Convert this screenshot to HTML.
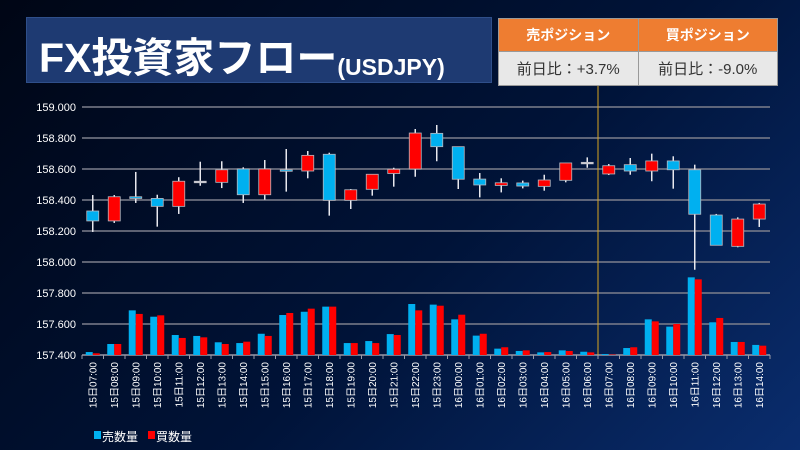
<!DOCTYPE html>
<html><head><meta charset="utf-8"><style>
body{margin:0;width:800px;height:450px;overflow:hidden;background:linear-gradient(135deg,#000615 0%,#001338 55%,#0a2d6e 100%);font-family:"Liberation Sans","Noto Sans CJK JP",sans-serif;}
#title{position:absolute;left:26px;top:17px;width:466px;height:66px;background:#1e3a72;border:1px solid #2f4f8a;box-sizing:border-box;color:#fff;}
#title .big{position:absolute;left:12px;top:6px;font-size:41px;font-weight:bold;}
#title .small{font-size:23px;font-weight:bold;position:relative;top:3px;}
#tbl{position:absolute;left:498px;top:18px;width:280px;height:68px;border-collapse:collapse;}
#tbl td{border:1px solid #999;text-align:center;width:50%;}
#tbl .h td{background:#ee7d31;color:#fff;font-weight:bold;font-size:14px;height:30px;}
#tbl .v td{background:#e8e8e8;color:#333;font-size:15px;}
svg{position:absolute;left:0;top:0}
</style></head><body>
<div id="title"><span class="big">FX投資家フロー<span class="small">(USDJPY)</span></span></div>
<table id="tbl">
<tr class="h"><td>売ポジション</td><td>買ポジション</td></tr>
<tr class="v"><td>前日比：+3.7%</td><td>前日比：-9.0%</td></tr>
</table>
<svg id="chart" width="800" height="450"></svg>
<script>
const categories=["15日07:00","15日08:00","15日09:00","15日10:00","15日11:00","15日12:00","15日13:00","15日14:00","15日15:00","15日16:00","15日17:00","15日18:00","15日19:00","15日20:00","15日21:00","15日22:00","15日23:00","16日00:00","16日01:00","16日02:00","16日03:00","16日04:00","16日05:00","16日06:00","16日07:00","16日08:00","16日09:00","16日10:00","16日11:00","16日12:00","16日13:00","16日14:00"];
const openV=[158.329,158.265,158.421,158.410,158.359,158.521,158.514,158.600,158.434,158.595,158.587,158.695,158.398,158.469,158.571,158.600,158.830,158.744,158.535,158.494,158.510,158.488,158.527,158.643,158.568,158.628,158.587,158.652,158.595,158.303,158.101,158.277];
const highV=[158.432,158.432,158.581,158.434,158.547,158.647,158.650,158.611,158.658,158.729,158.716,158.705,158.471,158.566,158.608,158.858,158.884,158.744,158.574,158.540,158.525,158.563,158.639,158.675,158.632,158.671,158.699,158.682,158.628,158.310,158.288,158.381];
const lowV=[158.194,158.252,158.381,158.228,158.310,158.492,158.477,158.381,158.402,158.454,158.540,158.299,158.342,158.428,158.486,158.550,158.650,158.471,158.417,158.449,158.475,158.460,158.514,158.608,158.561,158.563,158.521,158.473,157.950,158.108,158.095,158.226];
const closeV=[158.265,158.421,158.410,158.359,158.521,158.518,158.595,158.434,158.600,158.587,158.688,158.398,158.466,158.566,158.598,158.832,158.744,158.534,158.497,158.511,158.490,158.529,158.639,158.643,158.621,158.587,158.652,158.595,158.308,158.108,158.277,158.374];
const sellVol=[19,71,288,247,129,123,82,77,137,258,279,312,77,90,135,329,325,230,125,41,26,17,30,21,6,45,230,183,501,211,84,65];
const buyVol=[11,71,265,256,110,114,71,86,123,271,299,312,77,77,129,288,318,260,137,50,30,19,26,17,3,50,217,200,488,239,84,60];
const yTicks=[157.4,157.6,157.8,158.0,158.2,158.4,158.6,158.8,159.0];
const legendLabels=["売数量","買数量"];

const NS="http://www.w3.org/2000/svg";
const svg=document.getElementById('chart');
const X0=82,X1=770,Y0=355,Y1=107,PMIN=157.4,PMAX=159.0;
const bw=(X1-X0)/categories.length;
const y=p=>Y0-(p-PMIN)/(PMAX-PMIN)*(Y0-Y1);
const xc=i=>X0+bw*(i+0.5);
const volY=v=>y(PMIN+v*0.001);
function el(t,a,p){const e=document.createElementNS(NS,t);for(const k in a)e.setAttribute(k,a[k]);(p||svg).appendChild(e);return e;}

yTicks.forEach((t,i)=>{
  const g=el('line',{x1:X0,x2:X1,y1:y(t),y2:y(t),stroke:i===0?'#9a9aa8':'#7c7f8c','stroke-width':1.5});
  
  
  const tx=el('text',{x:76,y:y(t)+4,fill:'#fff','font-size':11,'text-anchor':'end'});
  tx.textContent=t.toFixed(3);
  
  
});
for(let i=0;i<=categories.length;i++){
  const tk=el('line',{x1:X0+bw*i,x2:X0+bw*i,y1:Y0,y2:Y0+4,stroke:'#9a9aa8'});
  
  
}
const dv=el('line',{x1:X0+bw*24,x2:X0+bw*24,y1:86,y2:Y0,stroke:'#d9a520','stroke-width':1});



categories.forEach((c,i)=>{
  const cx=xc(i);
  const sb=el('rect',{x:cx-7,y:volY(sellVol[i]),width:7,height:Y0-volY(sellVol[i]),fill:'#00b0f0'});
  
  
  const bb=el('rect',{x:cx,y:volY(buyVol[i]),width:7,height:Y0-volY(buyVol[i]),fill:'#ff0000'});
  
  
  const o=openV[i],cl=closeV[i];
  const wk=el('line',{x1:cx,x2:cx,y1:y(highV[i]),y2:y(lowV[i]),stroke:'#e8e8ee','stroke-width':1.5});
  
  
  const top=y(Math.max(o,cl)),bot=y(Math.min(o,cl));
  let col=cl>=o?'#ff0000':'#00b0f0';
  let h=bot-top;
  if(h<1.5){ if(Math.abs(o-cl)<0.004) col='#e8e8ee'; h=Math.max(h,1.5);}
  const bd=el('rect',{x:cx-6,y:top,width:12,height:h,fill:col,stroke:'#b8b8c0','stroke-width':0.8});
  
  
  const lb=el('text',{x:0,y:0,fill:'#fff','font-size':10,'text-anchor':'end',transform:`translate(${cx+3.5},${Y0+7}) rotate(-90)`});
  lb.textContent=c;
  
  
});
const lc=['#00b0f0','#ff0000'];
legendLabels.forEach((l,i)=>{
  const lx=94+i*54;
  const r=el('rect',{x:lx,y:431,width:7,height:8,fill:lc[i]});
  
  
  const t=el('text',{x:lx+8,y:441,fill:'#fff','font-size':12});
  t.textContent=l;
  
  
});
</script>
</body></html>
